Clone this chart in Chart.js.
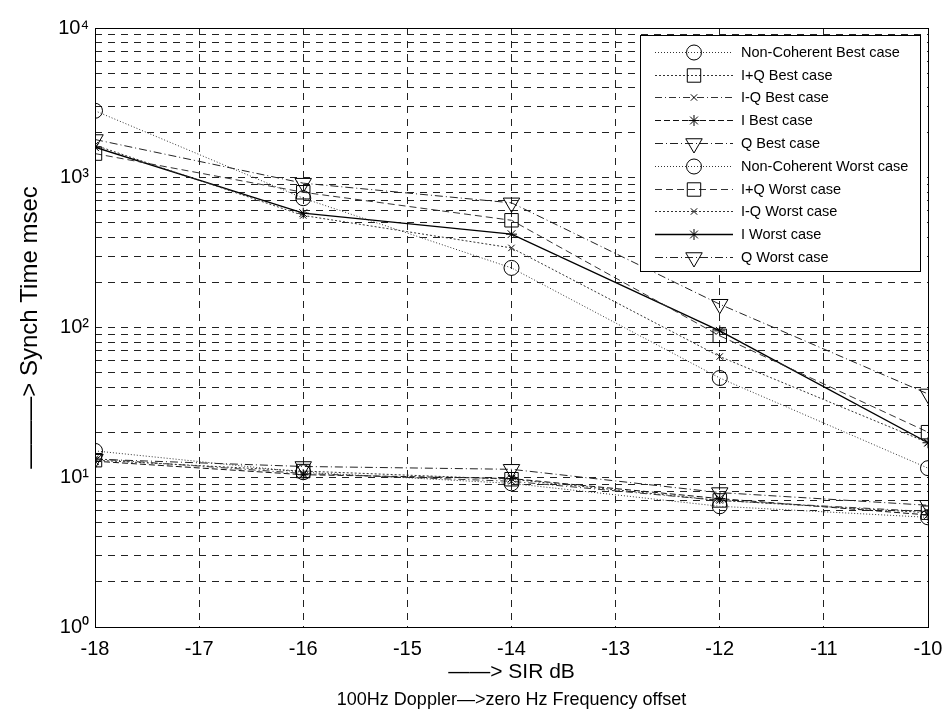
<!DOCTYPE html>
<html><head><meta charset="utf-8">
<script src="https://cdn.jsdelivr.net/npm/chart.js@4/dist/chart.umd.min.js"></script>
<style>html,body{margin:0;padding:0;background:#fff}#wrap{width:948px;height:719px}</style>
</head><body><div id="wrap"><canvas id="c" width="948" height="719"></canvas></div>
<script>
// ---- data ----
const sirDb = [-18, -16, -14, -12, -10];
const xTickValues = [-18, -17, -16, -15, -14, -13, -12, -11, -10];
const yDecades = [1, 10, 100, 1000, 10000];
const seriesNames = [
  'Non-Coherent Best case', 'I+Q Best case', 'I-Q Best case', 'I Best case', 'Q Best case',
  'Non-Coherent Worst case', 'I+Q Worst case', 'I-Q Worst case', 'I Worst case', 'Q Worst case'
];
const ncBest   = [15,   10.8, 9.1, 6.4, 5.4];
const ipqBest  = [13,   11,   9.7, 7.0, 5.8];
const imqBest  = [13.3, 10.6, 9.4, 7.0, 5.9];
const iBest    = [12.8, 10.4, 9.8, 7.2, 5.6];
const qBest    = [13.2, 11.8, 11.3, 7.9, 6.5];
const ncWorst  = [2800, 730, 250, 46, 11.5];
const ipqWorst = [1450, 800, 520, 88, 20];
const imqWorst = [1650, 560, 340, 64, 17];
const iWorst   = [1600, 580, 420, 95, 17];
const qWorst   = [1800, 920, 680, 143, 36];
const seriesValues = [ncBest, ipqBest, imqBest, iBest, qBest, ncWorst, ipqWorst, imqWorst, iWorst, qWorst];
const xTitle = '\u2014\u2014> SIR dB';
const subTitle = '100Hz Doppler\u2014>zero Hz Frequency offset';
const yTitle = '\u2014\u2014\u2014> Synch Time msec';

// ---- styles ----
const styles = [
  {ps:'circle',  r:7.5, rot:0,   dash:[1,2],        w:1,   c:'#333'},
  {ps:'rect',    r:9.5, rot:0,   dash:[2,2],        w:1,   c:'#333'},
  {ps:'crossRot',r:4.5, rot:0,   dash:[7,3,1,3],    w:1,   c:'#333'},
  {ps:'star',    r:5.5, rot:0,   dash:[6,3],        w:1,   c:'#111'},
  {ps:'triangle',r:9.5, rot:180, dash:[8,3,1,3],    w:1,   c:'#222'},
  {ps:'circle',  r:7.5, rot:0,   dash:[1,2],        w:1,   c:'#333'},
  {ps:'rect',    r:9.5, rot:0,   dash:[7,4],        w:1,   c:'#333'},
  {ps:'crossRot',r:4.5, rot:0,   dash:[2,2],        w:1,   c:'#333'},
  {ps:'star',    r:5.5, rot:0,   dash:[],           w:1.4, c:'#000'},
  {ps:'triangle',r:9.5, rot:180, dash:[8,3,1,3],    w:1,   c:'#222'}
];

const datasets = seriesValues.map((vals, i) => ({
  label: seriesNames[i],
  data: sirDb.map((x, j) => ({x: x, y: vals[j]})),
  borderColor: styles[i].c,
  borderWidth: styles[i].w,
  borderDash: styles[i].dash,
  pointStyle: styles[i].ps,
  pointRadius: styles[i].r,
  pointRotation: styles[i].rot,
  pointBorderColor: '#000',
  pointBorderWidth: 1,
  pointBackgroundColor: 'rgba(0,0,0,0)',
  fill: false,
  tension: 0,
  showLine: true
}));

const SUP = {0:'\u2070',1:'\u00B9',2:'\u00B2',3:'\u00B3',4:'\u2074'};
const FONT = "'Liberation Sans', Arial, sans-serif";

function drawMarker(ctx, ps, x, y, r, rot) {
  ctx.beginPath();
  if (ps === 'circle') {
    ctx.arc(x, y, r, 0, Math.PI * 2);
  } else if (ps === 'rect') {
    const s = Math.SQRT1_2 * r;
    ctx.rect(x - s, y - s, 2 * s, 2 * s);
  } else if (ps === 'crossRot' || ps === 'star') {
    const d = Math.SQRT1_2 * r;
    ctx.moveTo(x - d, y - d); ctx.lineTo(x + d, y + d);
    ctx.moveTo(x + d, y - d); ctx.lineTo(x - d, y + d);
    if (ps === 'star') {
      ctx.moveTo(x, y - r); ctx.lineTo(x, y + r);
      ctx.moveTo(x - r, y); ctx.lineTo(x + r, y);
    }
  } else if (ps === 'triangle') {
    let a = rot * Math.PI / 180;
    ctx.moveTo(x + Math.sin(a) * r, y - Math.cos(a) * r);
    a += 2 * Math.PI / 3;
    ctx.lineTo(x + Math.sin(a) * r, y - Math.cos(a) * r);
    a += 2 * Math.PI / 3;
    ctx.lineTo(x + Math.sin(a) * r, y - Math.cos(a) * r);
    ctx.closePath();
  }
  ctx.stroke();
}

const framePlugin = {
  id: 'frameAndLegend',
  afterDraw(chart) {
    const ctx = chart.ctx;
    const a = chart.chartArea;
    ctx.save();
    ctx.setLineDash([]);
    ctx.strokeStyle = '#000';
    ctx.lineWidth = 1;
    ctx.strokeRect(Math.round(a.left) + 0.5, Math.round(a.top) + 0.5,
                   Math.round(a.right - a.left), Math.round(a.bottom - a.top));
    // legend
    const bx1 = a.right - 288, bx2 = a.right - 8, by1 = a.top + 7;
    const rowH = 22.8, firstRow = by1 + 16.7;
    const by2 = firstRow + rowH * 9 + 14.5;
    ctx.fillStyle = '#fff';
    ctx.fillRect(bx1, by1, bx2 - bx1, by2 - by1);
    ctx.strokeRect(Math.round(bx1) + 0.5, Math.round(by1) + 0.5, Math.round(bx2 - bx1), Math.round(by2 - by1));
    ctx.font = '14.5px ' + FONT;
    ctx.textBaseline = 'middle';
    ctx.textAlign = 'left';
    chart.data.datasets.forEach((ds, i) => {
      const st = styles[i];
      const y = Math.round(firstRow + i * rowH) + 0.5;
      ctx.strokeStyle = st.c;
      ctx.lineWidth = st.w;
      ctx.setLineDash(st.dash);
      ctx.beginPath();
      ctx.moveTo(bx1 + 15, y); ctx.lineTo(bx1 + 93, y);
      ctx.stroke();
      ctx.setLineDash([]);
      ctx.strokeStyle = '#000';
      ctx.lineWidth = 1;
      drawMarker(ctx, st.ps, bx1 + 54, y, st.r, st.rot);
      ctx.fillStyle = '#000';
      ctx.fillText(ds.label, bx1 + 101, y);
    });
    ctx.restore();
  }
};

new Chart(document.getElementById('c'), {
  type: 'line',
  data: { datasets: datasets },
  plugins: [framePlugin],
  options: {
    responsive: false,
    animation: false,
    devicePixelRatio: 1,
    layout: { padding: { top: 28, right: 20, left: 0, bottom: 0 } },
    plugins: {
      legend: { display: false },
      tooltip: { enabled: false },
      subtitle: {
        display: true, position: 'bottom', fullSize: false, text: subTitle, color: '#000',
        font: { family: FONT, size: 18, weight: 'normal', lineHeight: '22px' },
        padding: { top: 0, bottom: 8 }
      }
    },
    scales: {
      x: {
        type: 'linear', min: -18, max: -10,
        afterBuildTicks: s => { s.ticks = xTickValues.map(v => ({value: v})); },
        afterFit: s => { s.height = 62; s.paddingLeft = 0; s.paddingRight = 0; },
        ticks: { font: { family: FONT, size: 20 }, color: '#000', padding: 10, maxRotation: 0, autoSkip: false },
        grid: { color: '#222', lineWidth: 1, drawTicks: false },
        border: { display: false, dash: [7, 6] },
        title: {
          display: true,
          text: xTitle,
          font: { family: FONT, size: 21, lineHeight: '26px' },
          color: '#000',
          padding: { top: 0, bottom: 4 }
        }
      },
      y: {
        type: 'logarithmic', min: 1, max: 10000,
        afterBuildTicks: s => {
          const t = [];
          for (let k = 0; k < yDecades.length - 1; k++) {
            for (let m = 1; m <= 9; m++) t.push({value: m * yDecades[k]});
          }
          t.push({value: yDecades[yDecades.length - 1]});
          s.ticks = t;
        },
        afterFit: s => { s.width = 95; s.paddingTop = 0; s.paddingBottom = 0; },
        ticks: {
          font: { family: FONT, size: 20 }, color: '#000', padding: 6, autoSkip: false,
          callback: v => {
            const k = yDecades.indexOf(v);
            return k >= 0 ? '10' + SUP[k] : '';
          }
        },
        grid: { color: '#222', lineWidth: 1, drawTicks: false },
        border: { display: false, dash: [7, 6] },
        title: {
          display: true,
          text: yTitle,
          font: { family: FONT, size: 24, lineHeight: 1.2 },
          color: '#000',
          padding: { top: 16, bottom: 0 }
        }
      }
    }
  }
});
</script></body></html>
